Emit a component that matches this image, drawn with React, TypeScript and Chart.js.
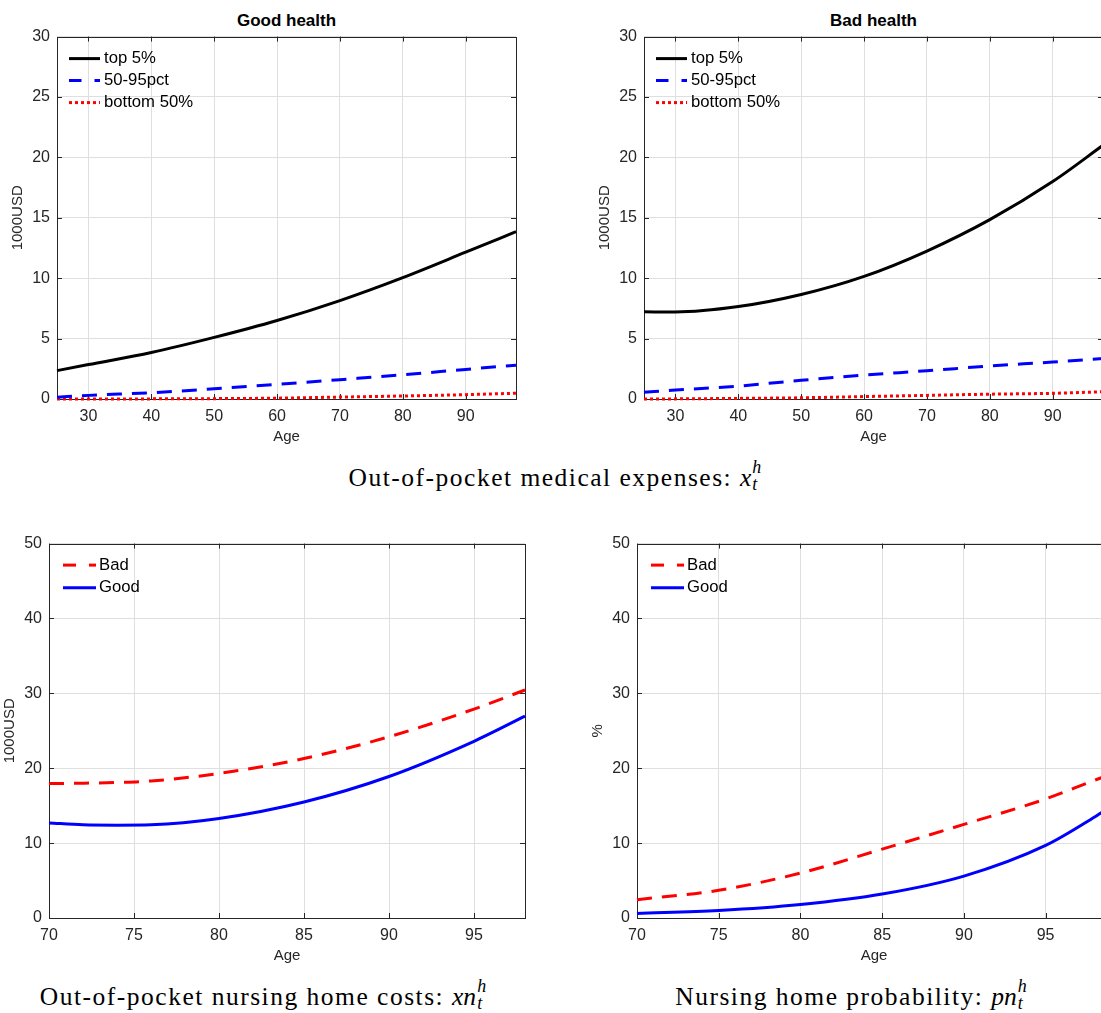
import React, { useEffect, useRef } from "react";
import { Chart, registerables } from "chart.js";

Chart.register(...registerables);

// ---------- data ----------
const topAges = [25, 30, 40, 50, 60, 70, 80, 90, 98];
const goodTop5 = [2.35, 2.85, 3.85, 5.1, 6.5, 8.15, 10.05, 12.15, 13.85];
const goodMid = [0.15, 0.3, 0.52, 0.85, 1.21, 1.6, 2.0, 2.45, 2.8];
const goodBottom = [0, 0, 0.01, 0.03, 0.07, 0.16, 0.25, 0.36, 0.48];
const badTop5 = [7.22, 7.2, 7.65, 8.65, 10.15, 12.25, 14.85, 18.0, 21.0];
const badMid = [0.55, 0.74, 1.07, 1.55, 1.98, 2.34, 2.73, 3.06, 3.35];
const badBottom = [0, 0.01, 0.05, 0.1, 0.2, 0.3, 0.4, 0.47, 0.6];

const costAges = [70, 72, 74, 76, 80, 85, 90, 95, 98];
const costBad = [17.95, 18.0, 18.1, 18.3, 19.3, 21.3, 24.2, 27.9, 30.45];
const costGood = [12.7, 12.45, 12.4, 12.45, 13.3, 15.5, 18.9, 23.6, 26.95];

const probAges = [70, 75, 80, 85, 90, 95, 98, 99];
const probBad = [2.45, 3.7, 6.0, 9.2, 12.5, 15.9, 18.4, 19.2];
const probGood = [0.6, 1.0, 1.8, 3.2, 5.6, 9.7, 13.5, 14.9];

const topXTicks = [30, 40, 50, 60, 70, 80, 90];
const topYTicks = [0, 5, 10, 15, 20, 25, 30];
const botXTicks = [70, 75, 80, 85, 90, 95];
const botYTicks = [0, 10, 20, 30, 40, 50];

const topLabels = ["top 5%", "50-95pct", "bottom 50%"];
const botLabels = ["Bad", "Good"];

// ---------- styling ----------
const SANS = "'Liberation Sans', Arial, Helvetica, sans-serif";
const SERIF = "'Liberation Serif', 'Times New Roman', serif";
const AXIS = "#262626";
const GRID = "#dfdfdf";
const YW = 50;
const PT = 15;
const PR = 15;
const XH = 55;

type Series = { label: string; ages: number[]; values: number[]; color: string; dash: number[]; legendDash: number[] };

type PanelProps = {
  L: number; T: number; R: number; B: number;
  xMin: number; xMax: number; xTicks: number[];
  yMin: number; yMax: number; yTicks: number[];
  yTitle: string;
  series: Series[];
  legend: { dx: number; len: number; gap: number; dy: number; step: number };
};

const decorPlugin = {
  id: "decor",
  beforeDatasetsDraw(chart: any, _a: any, opts: any) {
    const { ctx, chartArea } = chart;
    const { left, top, right, bottom } = chartArea;
    const xs = chart.scales.x;
    const ys = chart.scales.y;
    ctx.save();
    ctx.strokeStyle = AXIS;
    ctx.lineWidth = 1;
    ctx.setLineDash([]);
    ctx.beginPath();
    for (const v of opts.xTicks) {
      const px = Math.round(xs.getPixelForValue(v)) + 0.5;
      ctx.moveTo(px, bottom);
      ctx.lineTo(px, bottom - 5);
      ctx.moveTo(px, top);
      ctx.lineTo(px, top + 5);
    }
    for (const v of opts.yTicks) {
      const py = Math.round(ys.getPixelForValue(v)) + 0.5;
      ctx.moveTo(left, py);
      ctx.lineTo(left + 5, py);
      ctx.moveTo(right, py);
      ctx.lineTo(right - 5, py);
    }
    ctx.stroke();
    ctx.strokeRect(Math.round(left) + 0.5, Math.round(top) + 0.5, Math.round(right - left), Math.round(bottom - top));
    // axis titles
    ctx.fillStyle = AXIS;
    ctx.font = `15px ${SANS}`;
    ctx.textAlign = "center";
    ctx.textBaseline = "middle";
    ctx.fillText("Age", (left + right) / 2, bottom + 38);
    ctx.save();
    ctx.translate(left - 39, (top + bottom) / 2);
    ctx.rotate(-Math.PI / 2);
    ctx.fillText(opts.yTitle, 0, 0);
    ctx.restore();
    ctx.restore();
  },
  afterDraw(chart: any, _a: any, opts: any) {
    const { ctx, chartArea } = chart;
    const { left, top } = chartArea;
    const lg = opts.legend;
    ctx.save();
    opts.series.forEach((s: Series, i: number) => {
      const y = top + lg.dy + i * lg.step;
      const x0 = left + lg.dx;
      ctx.beginPath();
      ctx.strokeStyle = s.color;
      ctx.lineWidth = 3;
      ctx.lineCap = "butt";
      ctx.setLineDash(s.legendDash);
      ctx.moveTo(x0, y);
      ctx.lineTo(x0 + lg.len, y);
      ctx.stroke();
      ctx.setLineDash([]);
      ctx.fillStyle = "#000";
      ctx.font = `16.7px ${SANS}`;
      ctx.textAlign = "left";
      ctx.textBaseline = "middle";
      ctx.fillText(s.label, x0 + lg.len + lg.gap, y);
    });
    ctx.restore();
  },
};

function Panel(p: PanelProps) {
  const ref = useRef<HTMLCanvasElement>(null);
  const W = p.R - p.L + YW + PR;
  const H = p.B - p.T + PT + XH;
  useEffect(() => {
    const tickFont = { family: SANS, size: 16 };
    const chart = new Chart(ref.current as HTMLCanvasElement, {
      type: "line",
      data: {
        datasets: p.series.map((s) => ({
          label: s.label,
          data: s.ages.map((a, i) => ({ x: a, y: s.values[i] })),
          borderColor: s.color,
          backgroundColor: s.color,
          borderWidth: 3,
          borderDash: s.dash,
          borderCapStyle: "butt",
          pointRadius: 0,
          fill: false,
          cubicInterpolationMode: "monotone",
          clip: 5,
        })),
      },
      options: {
        animation: false,
        responsive: false,
        devicePixelRatio: 1,
        layout: { padding: { left: 0, top: PT, right: PR, bottom: 0 } },
        plugins: {
          legend: { display: false },
          tooltip: { enabled: false },
          title: { display: false },
          decor: { xTicks: p.xTicks, yTicks: p.yTicks, yTitle: p.yTitle, series: p.series, legend: p.legend },
        } as any,
        scales: {
          x: {
            type: "linear",
            min: p.xMin,
            max: p.xMax,
            afterBuildTicks: (s: any) => {
              s.ticks = p.xTicks.map((v) => ({ value: v }));
            },
            afterFit: (s: any) => {
              s.height = XH;
            },
            ticks: { font: tickFont, color: AXIS, padding: 8, maxRotation: 0, autoSkip: false },
            grid: { color: GRID, drawTicks: false, lineWidth: 1 },
            border: { display: false },
          },
          y: {
            type: "linear",
            min: p.yMin,
            max: p.yMax,
            afterBuildTicks: (s: any) => {
              s.ticks = p.yTicks.map((v) => ({ value: v }));
            },
            afterFit: (s: any) => {
              s.width = YW;
            },
            ticks: { font: tickFont, color: AXIS, padding: 7, autoSkip: false },
            grid: { color: GRID, drawTicks: false, lineWidth: 1 },
            border: { display: false },
          },
        },
      } as any,
      plugins: [decorPlugin],
    });
    return () => chart.destroy();
  }, []);
  return (
    <canvas
      ref={ref}
      width={W}
      height={H}
      style={{ position: "absolute", left: p.L - YW, top: p.T - PT, width: W, height: H }}
    />
  );
}

function MathSym({ base }: { base: string }) {
  return (
    <span style={{ fontStyle: "italic", letterSpacing: 0 }}>
      {base}
      <span style={{ position: "relative", display: "inline-block", width: "0.55em", height: 0 }}>
        <span style={{ position: "absolute", left: 1, bottom: 9, fontSize: "0.7em", lineHeight: 1 }}>h</span>
        <span style={{ position: "absolute", left: 1, bottom: -8, fontSize: "0.7em", lineHeight: 1 }}>t</span>
      </span>
    </span>
  );
}

function Caption({ cx, cy, text, base }: { cx: number; cy: number; text: string; base: string }) {
  return (
    <div
      style={{
        position: "absolute",
        left: cx - 300,
        width: 600,
        top: cy - 14,
        textAlign: "center",
        fontFamily: SERIF,
        fontSize: 25.5,
        lineHeight: "28px",
        letterSpacing: 1.5,
        color: "#000",
        whiteSpace: "nowrap",
      }}
    >
      {text}
      <MathSym base={base} />
    </div>
  );
}

function Title({ L, R, text }: { L: number; R: number; text: string }) {
  return (
    <div
      style={{
        position: "absolute",
        left: L,
        width: R - L,
        top: 11,
        textAlign: "center",
        fontFamily: SANS,
        fontWeight: "bold",
        fontSize: 17,
        lineHeight: "20px",
        color: "#000",
      }}
    >
      {text}
    </div>
  );
}

const topLegend = { dx: 12, len: 31, gap: 4, dy: 22, step: 22 };
const botLegend = { dx: 14, len: 33, gap: 3, dy: 21.5, step: 22.7 };

const goodSeries: Series[] = [
  { label: topLabels[0], ages: topAges, values: goodTop5, color: "#000000", dash: [], legendDash: [] },
  { label: topLabels[1], ages: topAges, values: goodMid, color: "#0000ff", dash: [15, 10], legendDash: [12.5, 13] },
  { label: topLabels[2], ages: topAges, values: goodBottom, color: "#ff0000", dash: [3, 3], legendDash: [3, 3] },
];
const badSeries: Series[] = [
  { label: topLabels[0], ages: topAges, values: badTop5, color: "#000000", dash: [], legendDash: [] },
  { label: topLabels[1], ages: topAges, values: badMid, color: "#0000ff", dash: [15, 10], legendDash: [12.5, 13] },
  { label: topLabels[2], ages: topAges, values: badBottom, color: "#ff0000", dash: [3, 3], legendDash: [3, 3] },
];
const costSeries: Series[] = [
  { label: botLabels[0], ages: costAges, values: costBad, color: "#ff0000", dash: [15, 10], legendDash: [13, 13] },
  { label: botLabels[1], ages: costAges, values: costGood, color: "#0000ff", dash: [], legendDash: [] },
];
const probSeries: Series[] = [
  { label: botLabels[0], ages: probAges, values: probBad, color: "#ff0000", dash: [15, 10], legendDash: [13, 13] },
  { label: botLabels[1], ages: probAges, values: probGood, color: "#0000ff", dash: [], legendDash: [] },
];

export default function App() {
  return (
    <div
      style={{
        position: "absolute",
        left: 0,
        top: 0,
        width: 1101,
        height: 1013,
        overflow: "hidden",
        background: "#fff",
      }}
    >
      <Title L={57} R={516} text="Good health" />
      <Title L={644} R={1103} text="Bad health" />
      <Panel L={57} T={35} R={516} B={399} xMin={25} xMax={98} xTicks={topXTicks} yMin={0} yMax={30} yTicks={topYTicks} yTitle="1000USD" series={goodSeries} legend={topLegend} />
      <Panel L={644} T={35} R={1103} B={399} xMin={25} xMax={98} xTicks={topXTicks} yMin={0} yMax={30} yTicks={topYTicks} yTitle="1000USD" series={badSeries} legend={topLegend} />
      <Panel L={49} T={542} R={525} B={918} xMin={70} xMax={98} xTicks={botXTicks} yMin={0} yMax={50} yTicks={botYTicks} yTitle="1000USD" series={costSeries} legend={botLegend} />
      <Panel L={637} T={542} R={1111} B={918} xMin={70} xMax={99} xTicks={botXTicks} yMin={0} yMax={50} yTicks={botYTicks} yTitle="%" series={probSeries} legend={botLegend} />
      <Caption cx={557} cy={478} text="Out-of-pocket medical expenses: " base="x" />
      <Caption cx={265} cy={997} text="Out-of-pocket nursing home costs: " base="xn" />
      <Caption cx={853} cy={997} text="Nursing home probability: " base="pn" />
    </div>
  );
}
